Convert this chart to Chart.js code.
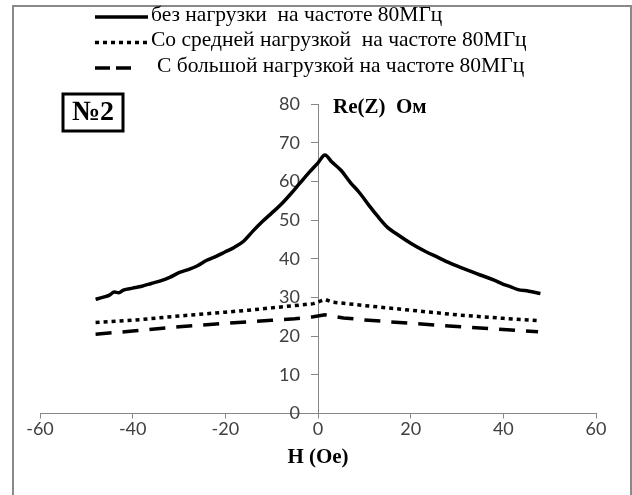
<!DOCTYPE html>
<html>
<head>
<meta charset="utf-8">
<script src="https://cdn.jsdelivr.net/npm/chart.js@4.4.1/dist/chart.umd.min.js"></script>
<style>
  body { margin: 0; background: #fff; }
  .wrap { position: relative; width: 632px; height: 495px; }
  .frame { position: absolute; left: 12px; top: 5px; width: 616px; height: 500px;
           border: 2px solid #898989; border-bottom: none; }
  canvas { position: absolute; left: 0; top: 0; }
</style>
</head>
<body>
<div class="wrap">
  <div class="frame"></div>
  <canvas id="myChart" width="632" height="495"></canvas>
</div>
<script>
// H (Oe) for the curve without load
const fieldMain = [-48, -46.5, -45, -44, -43, -42, -40, -38, -36, -34, -32, -30, -28, -26, -24, -22, -20, -18, -16, -14, -12, -10, -8, -6, -4, -2, 0, 1.5, 3, 5, 7, 9, 11, 13, 15, 17, 20, 23, 26, 29, 32, 35, 38, 40, 41.5, 43, 45.5, 48];
const reNoLoad = [29.5, 30.0, 30.6, 31.4, 31.2, 31.9, 32.4, 32.9, 33.6, 34.3, 35.2, 36.4, 37.2, 38.2, 39.6, 40.6, 41.8, 43.0, 44.6, 47.2, 49.6, 51.8, 54.0, 56.6, 59.4, 62.2, 64.8, 66.8, 65.0, 62.8, 59.7, 57.0, 53.8, 50.8, 48.1, 46.4, 44.0, 42.0, 40.3, 38.6, 37.2, 35.8, 34.5, 33.4, 32.8, 32.1, 31.6, 31.0];

// H (Oe) for the loaded curves
const fieldLoad = [-48, -40, -30, -20, -15, -10, -5, -1, 1.5, 3, 5.5, 10, 20, 30, 40, 47.5];
const reMidLoad = [23.5, 24.1, 25.2, 26.2, 26.7, 27.3, 27.9, 28.4, 29.5, 28.8, 28.5, 27.9, 26.7, 25.5, 24.6, 24.0];
const reBigLoad = [20.5, 21.3, 22.4, 23.3, 23.7, 24.1, 24.5, 25.0, 25.5, 25.2, 24.7, 24.2, 23.3, 22.5, 21.7, 21.1];

const labels = [
  'без нагрузки  на частоте 80МГц',
  'Со средней нагрузкой  на частоте 80МГц',
  'С большой нагрузкой на частоте 80МГц'
];
const xTicks = [-60, -40, -20, 0, 20, 40, 60];
const yTicks = [0, 10, 20, 30, 40, 50, 60, 70, 80];

const toPoints = (xs, ys) => xs.map((x, i) => ({ x: x, y: ys[i] }));

const axisColor = '#868686';
const tickFont = { family: 'Lato', size: 18 };
const serif = "'Liberation Serif', 'Times New Roman', serif";

// legend sample dash per row
const legendDash = [[], [4, 4], [15, 6]];

const extras = {
  id: 'extras',
  afterDraw(chart) {
    const ctx = chart.ctx;
    const xs = chart.scales.x;
    const ys = chart.scales.y;
    ctx.save();

    // legend
    ctx.font = '21.5px ' + serif;
    ctx.textBaseline = 'middle';
    ctx.fillStyle = '#000';
    chart.data.datasets.forEach((ds, i) => {
      const y = 17 + i * 25.5;
      ctx.strokeStyle = '#000';
      ctx.lineWidth = 3.5;
      ctx.setLineDash(legendDash[i]);
      ctx.beginPath();
      ctx.moveTo(95, y);
      ctx.lineTo(i === 2 ? 131 : 148, y);
      ctx.stroke();
      ctx.setLineDash([]);
      ctx.fillText(ds.label, i === 2 ? 157 : 151, y - 2);
    });

    // box with number
    ctx.lineWidth = 3;
    ctx.strokeRect(63, 94, 60, 37);
    ctx.font = 'bold 28px ' + serif;
    ctx.textAlign = 'center';
    ctx.fillText('№2', 93, 113);

    // y axis title
    ctx.font = 'bold 21px ' + serif;
    ctx.textAlign = 'left';
    ctx.fillText('Re(Z)  Ом', xs.getPixelForValue(0) + 15, ys.getPixelForValue(80) + 4);
    ctx.restore();
  }
};

const config = {
  type: 'line',
  data: {
    datasets: [{
      label: labels[0],
      data: toPoints(fieldMain, reNoLoad),
      borderColor: '#000',
      borderWidth: 3.5,
      cubicInterpolationMode: 'monotone',
      pointRadius: 0
    }, {
      label: labels[1],
      data: toPoints(fieldLoad, reMidLoad),
      borderColor: '#000',
      borderWidth: 3.5,
      borderDash: [4, 4],
      pointRadius: 0
    }, {
      label: labels[2],
      data: toPoints(fieldLoad, reBigLoad),
      borderColor: '#000',
      borderWidth: 3.5,
      borderDash: [16, 11],
      pointRadius: 0
    }]
  },
  options: {
    responsive: false,
    animation: false,
    layout: { padding: { top: 104, left: 40, right: 36, bottom: 0 } },
    plugins: { legend: { display: false }, tooltip: { enabled: false } },
    scales: {
      x: {
        type: 'linear',
        min: xTicks[0],
        max: xTicks[xTicks.length - 1],
        afterBuildTicks: s => { s.ticks = xTicks.map(v => ({ value: v })); },
        afterFit: s => { s.height = 81.5; },
        ticks: { font: tickFont, color: '#404040', padding: 0, maxRotation: 0 },
        grid: { drawOnChartArea: false, tickLength: 5, color: axisColor },
        border: { color: axisColor, width: 1 },
        title: {
          display: true,
          text: 'H (Oe)',
          color: '#000',
          font: { family: serif, size: 21, weight: 'bold' },
          padding: { top: 0, bottom: 25 }
        }
      },
      y: {
        // the range of x is symmetric, so the centre is H = 0
        position: 'center',
        min: yTicks[0],
        max: yTicks[yTicks.length - 1],
        afterBuildTicks: s => { s.ticks = yTicks.map(v => ({ value: v })); },
        ticks: { font: tickFont, color: '#404040', padding: 11 },
        grid: { drawOnChartArea: false, tickLength: 7, color: axisColor },
        border: { color: axisColor, width: 1 }
      }
    }
  },
  plugins: [extras]
};

const myChart = new Chart(document.getElementById('myChart'), config);
</script>
</body>
</html>
